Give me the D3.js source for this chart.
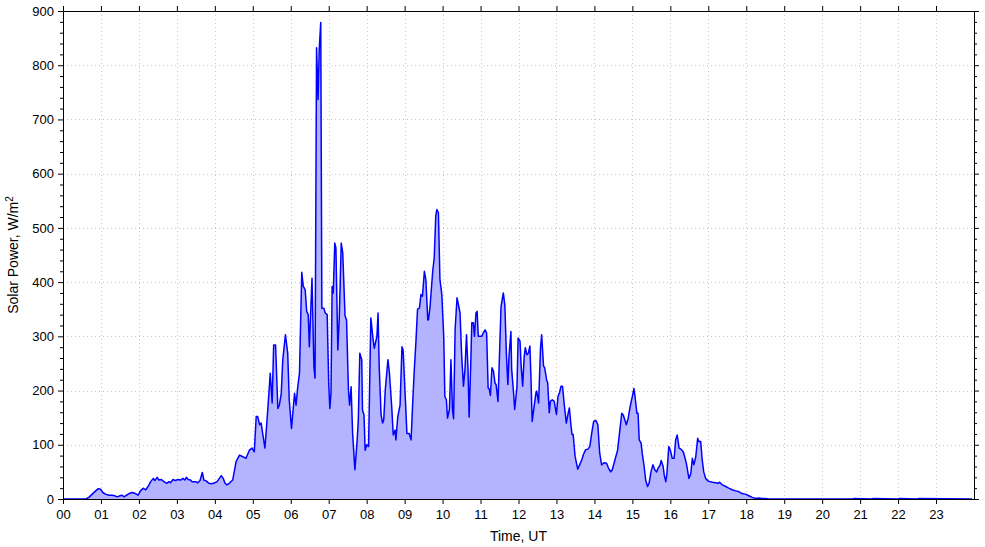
<!DOCTYPE html>
<html><head><meta charset="utf-8">
<script src="https://cdn.jsdelivr.net/npm/d3@7"></script>
<style>
html,body{margin:0;padding:0;background:#fff;}
svg text{font-family:"Liberation Sans",Arial,sans-serif;font-size:13px;fill:#000;}
</style></head>
<body><svg id="c" width="985" height="547"></svg>
<script>
const hours = [0,0.60,0.68,0.77,0.86,0.93,0.99,1.05,1.12,1.21,1.30,1.36,1.43,1.50,1.56,1.61,1.65,1.74,1.82,1.91,1.98,2.04,2.11,2.18,2.24,2.31,2.38,2.42,2.48,2.53,2.59,2.66,2.73,2.79,2.83,2.90,2.96,3.03,3.10,3.16,3.21,3.25,3.30,3.36,3.40,3.49,3.55,3.61,3.67,3.71,3.78,3.84,3.90,3.97,4.06,4.12,4.17,4.22,4.27,4.32,4.38,
4.47,4.56,4.65,4.74,4.82,4.91,4.98,5.04,5.09,5.13,5.18,5.22,5.26,5.32,5.39,5.46,5.51,5.55,5.60,5.66,5.70,5.75,5.79,5.86,5.92,5.96,6.02,6.10,6.14,6.18,6.23,6.29,6.33,6.38,6.42,6.46,6.49,6.56,6.61,6.64,6.68,6.72,6.75,6.79,6.82,6.87,6.91,6.96,7.00,7.03,7.06,7.09,7.12,7.16,7.19,7.24,7.28,7.33,7.37,7.43,7.47,7.52,7.55,7.59,7.63,7.69,7.75,7.78,7.82,7.87,7.89,7.93,7.96,8.00,8.05,8.11,8.16,8.20,8.27,8.30,8.33,8.38,8.42,8.45,8.49,8.56,8.60,8.66,8.70,8.75,8.77,8.82,8.88,8.93,8.96,9.02,9.06,9.12,9.17,9.21,9.25,9.30,9.34,9.39,9.43,9.47,9.52,9.56,9.61,
9.63,9.67,9.69,9.74,9.78,9.82,9.85,9.89,9.93,9.98,10.03,10.06,10.10,10.13,10.18,10.22,10.26,10.29,10.33,10.38,10.41,10.46,10.50,10.55,10.59,10.63,10.67,10.70,10.74,10.77,10.81,10.84,10.88,10.91,10.94,10.98,11.03,11.07,11.12,11.16,11.20,11.23,11.26,11.30,11.34,11.38,11.41,11.46,11.49,11.54,11.60,11.64,11.68,11.72,11.75,11.80,11.82,11.87,11.90,11.96,11.99,12.04,12.07,12.11,12.15,12.18,12.22,12.26,12.30,12.33,12.36,12.40,12.46,12.48,12.53,12.58,12.61,12.66,12.69,12.74,12.77,12.81,12.84,12.89,12.94,13.00,13.04,13.08,13.12,13.16,13.21,13.26,13.31,13.34,13.38,13.41,13.44,13.49,13.56,13.61,13.67,13.71,13.77,13.83,13.88,13.93,13.98,14.04,14.09,
14.14,14.19,14.25,14.32,14.37,14.43,14.47,14.54,14.61,14.67,14.72,14.76,14.80,14.84,14.89,14.94,14.97,15.00,15.04,15.07,15.12,15.15,15.18,15.23,15.26,15.31,15.35,15.40,15.44,15.49,15.54,15.59,15.64,15.68,15.73,15.76,15.81,15.84,15.88,15.91,15.96,16.00,16.05,16.10,16.14,16.18,16.20,16.23,16.28,16.34,16.39,16.43,16.46,16.49,16.54,16.58,16.62,16.67,16.72,16.75,16.80,16.84,16.88,16.93,17.00,17.11,17.19,17.26,17.30,17.37,17.46,17.54,17.63,17.72,17.79,17.89,17.98,18.07,18.16,18.25,18.33,18.42,18.51,18.60,18.70,20.80,20.85,21.30,21.35,22.00,22.05,22.50,22.55,23.95];
const power = [0,0,3,9,15,19,18,12,9,7,7,6,4,6,7,4,6,10,12,10,7,15,20,17,23,32,38,34,40,35,36,32,29,32,30,36,34,36,35,38,35,40,36,35,32,32,30,34,49,35,33,29,28,29,32,38,43,38,29,26,29,
35,69,81,78,75,90,94,87,152,152,137,140,121,94,160,232,177,284,284,167,173,195,257,303,269,183,130,195,173,204,232,418,392,386,346,340,281,407,244,223,832,737,829,879,352,352,343,340,213,167,195,392,380,472,463,275,337,472,454,338,330,201,173,207,121,54,109,146,269,257,164,155,90,100,97,334,300,278,300,343,244,155,140,146,201,257,232,170,118,127,109,152,173,281,275,183,121,121,109,173,232,293,350,352,377,374,420,404,330,
331,355,374,420,445,522,534,528,405,377,300,189,183,149,165,257,165,148,312,371,361,343,269,208,239,303,239,151,245,325,325,300,343,346,300,300,300,306,312,306,205,203,191,242,236,214,211,180,245,355,380,358,269,211,263,309,239,196,165,208,297,291,245,208,263,279,266,269,282,220,143,165,196,199,177,279,303,245,242,220,214,159,180,183,180,156,189,196,208,208,171,140,159,168,137,119,119,79,55,63,73,82,91,92,97,122,143,145,137,
84,63,67,66,57,50,54,72,90,127,158,155,146,137,149,170,180,189,204,189,158,158,109,103,84,60,35,23,29,50,63,54,50,57,63,71,60,44,32,47,97,90,75,75,109,118,109,94,92,87,75,63,50,38,47,75,63,78,112,106,106,72,50,38,33,31,30,29,31,26,23,20,17,15,14,10,9,6,3,1,2,1,1,0,0,0,1,0,1,0,1,0,1,0];
const xTicks = d3.range(0,24);
const xTickLabels = xTicks.map(h => String(h).padStart(2,"0"));
const yTicks = [0,100,200,300,400,500,600,700,800,900];
const yMinorTicks = d3.range(0,901,20).filter(v => v % 100 !== 0);

const svg = d3.select("#c");
const L=63, R=974, T=11, B=499;
const x = d3.scaleLinear().domain([0,24]).range([L,R]);
const y = d3.scaleLinear().domain([0,900]).range([B,T]);
const data = hours.map((h,i)=>({h, v:power[i]}));

// grid
const grid = svg.append("g");
grid.selectAll("line.vg").data(xTicks.slice(1)).enter().append("line")
  .attr("x1",d=>Math.round(x(d))+0.5).attr("x2",d=>Math.round(x(d))+0.5).attr("y1",T).attr("y2",B)
  .attr("stroke","#c8c8c8").attr("stroke-dasharray","1,3");
grid.selectAll("line.hg").data(yTicks.slice(1,-1)).enter().append("line")
  .attr("y1",d=>Math.round(y(d))+0.5).attr("y2",d=>Math.round(y(d))+0.5).attr("x1",L).attr("x2",R)
  .attr("stroke","#c8c8c8").attr("stroke-dasharray","1,3");

// area + line
svg.append("path").datum(data)
  .attr("d", d3.area().x(d=>x(d.h)).y0(y(0)).y1(d=>y(d.v)))
  .attr("fill","#b3b3ff");
svg.append("path").datum(data)
  .attr("d", d3.line().x(d=>x(d.h)).y(d=>y(d.v)))
  .attr("fill","none").attr("stroke","#0000ff").attr("stroke-width",1.5).attr("stroke-linejoin","round");

// axes
const axBottom = svg.append("g").attr("transform",`translate(0,${B})`)
  .call(d3.axisBottom(x).tickValues(xTicks).tickFormat((d,i)=>xTickLabels[i]).tickSize(5).tickSizeOuter(0));
const axTop = svg.append("g").attr("transform",`translate(0,${T})`)
  .call(d3.axisTop(x).tickValues(xTicks).tickFormat("").tickSize(5).tickSizeOuter(0));
const axLeft = svg.append("g").attr("transform",`translate(${L},0)`)
  .call(d3.axisLeft(y).tickValues(yTicks).tickFormat(d3.format("d")).tickSize(5).tickSizeOuter(0));
const axLeftMinor = svg.append("g").attr("transform",`translate(${L},0)`)
  .call(d3.axisLeft(y).tickValues(yMinorTicks).tickFormat("").tickSize(3).tickSizeOuter(0));
const axRight = svg.append("g").attr("transform",`translate(${R},0)`)
  .call(d3.axisRight(y).tickValues(yTicks).tickFormat("").tickSize(5).tickSizeOuter(0));
const axRightMinor = svg.append("g").attr("transform",`translate(${R},0)`)
  .call(d3.axisRight(y).tickValues(yMinorTicks).tickFormat("").tickSize(3).tickSizeOuter(0));
[axBottom,axTop,axLeft,axLeftMinor,axRight,axRightMinor].forEach(a=>{
  a.selectAll("path.domain").attr("stroke","#000").attr("stroke-width",1);
  a.selectAll("line").attr("stroke","#000");
  a.selectAll("text").style("font-family","'Liberation Sans',Arial,sans-serif").style("font-size","13px").attr("fill","#000");
});
axBottom.selectAll("text").attr("dy","0.95em");
axLeft.selectAll("text").attr("x",-9);

svg.append("text").attr("x",(L+R)/2).attr("y",541).attr("text-anchor","middle").style("font-size","14px").text("Time, UT");
const yl = svg.append("text").attr("transform",`translate(18,${(T+B)/2}) rotate(-90)`).attr("text-anchor","middle").style("font-size","14px");
yl.append("tspan").text("Solar Power, W/m");
yl.append("tspan").attr("dy","-0.5em").style("font-size","10px").text("2");
</script></body></html>
